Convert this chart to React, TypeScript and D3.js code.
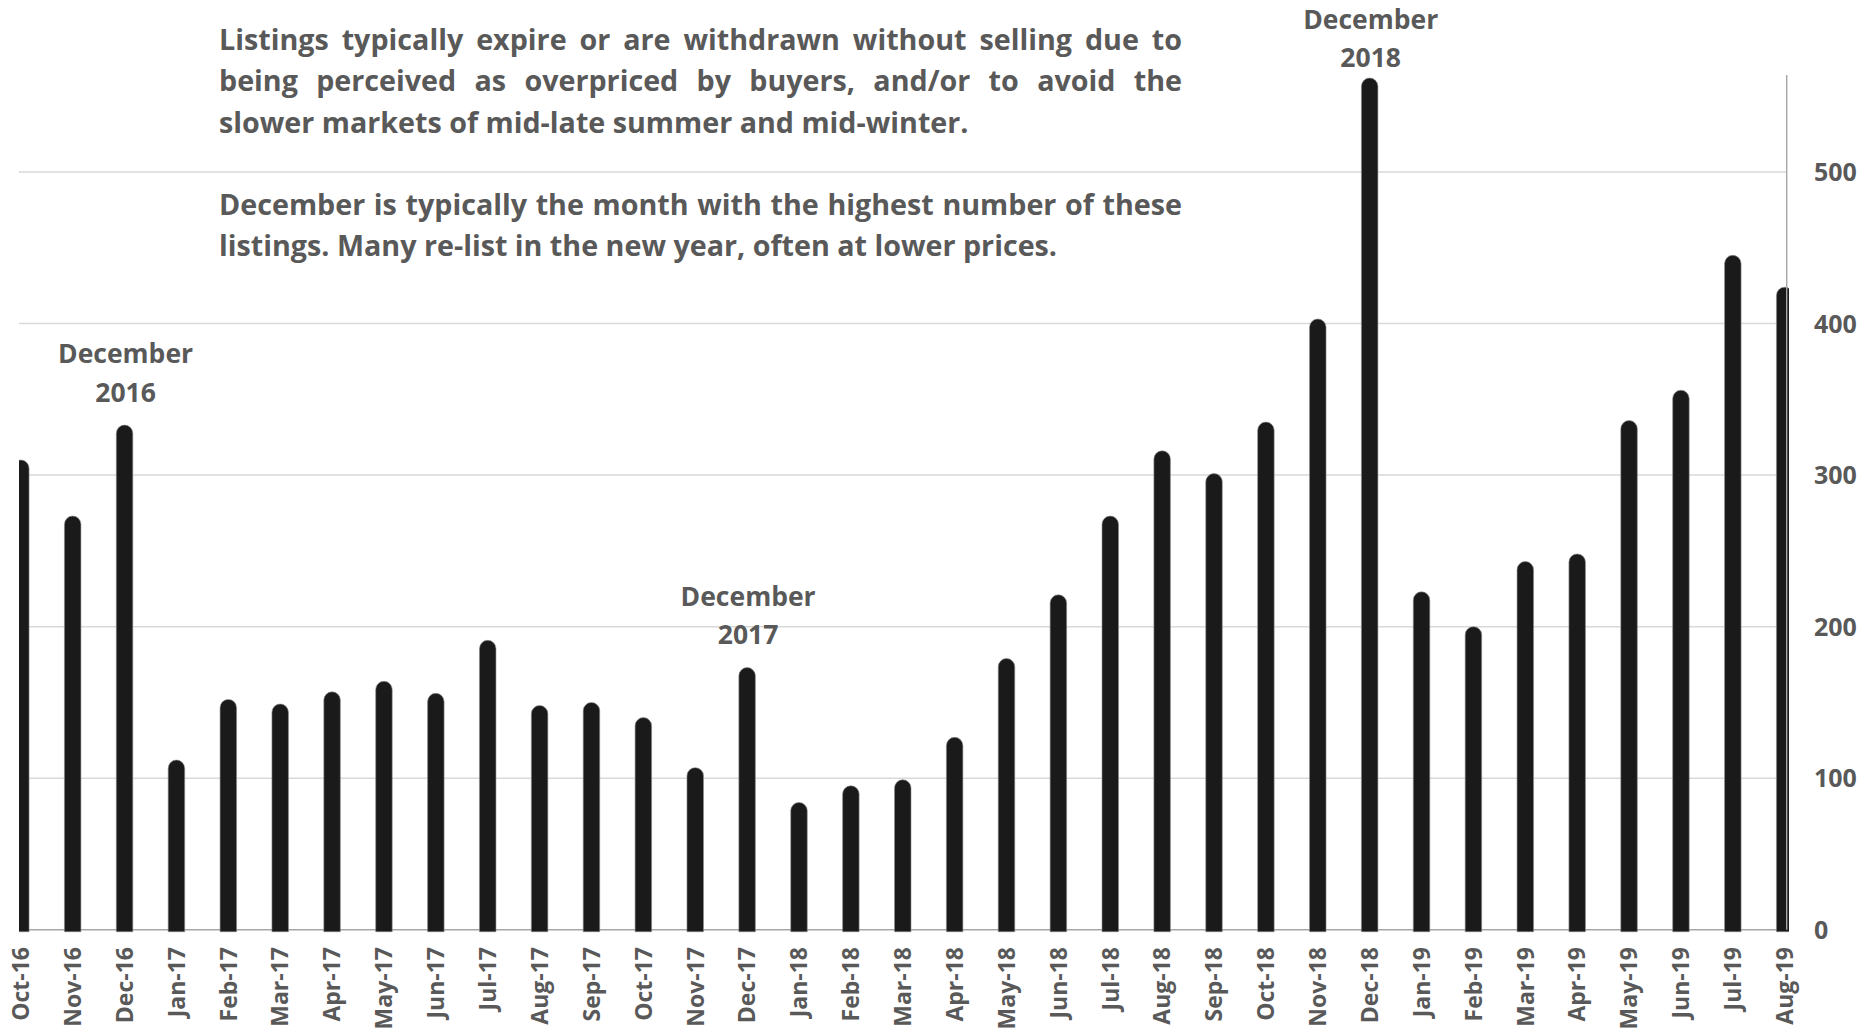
import React from "react";
import * as d3 from "d3";

// Monthly expired / withdrawn listings, Oct 2016 – Aug 2019
const months = [
  "Oct-16", "Nov-16", "Dec-16", "Jan-17", "Feb-17", "Mar-17", "Apr-17", "May-17",
  "Jun-17", "Jul-17", "Aug-17", "Sep-17", "Oct-17", "Nov-17", "Dec-17", "Jan-18",
  "Feb-18", "Mar-18", "Apr-18", "May-18", "Jun-18", "Jul-18", "Aug-18", "Sep-18",
  "Oct-18", "Nov-18", "Dec-18", "Jan-19", "Feb-19", "Mar-19", "Apr-19", "May-19",
  "Jun-19", "Jul-19", "Aug-19",
];

const counts = [
  310, 273, 333, 112, 152, 149, 157, 164,
  156, 191, 148, 150, 140, 107, 173, 84,
  95, 99, 127, 179, 221, 273, 316, 301,
  335, 403, 562, 223, 200, 243, 248, 336,
  356, 445, 424,
];

const yTicks = [0, 100, 200, 300, 400, 500];

const decemberCallouts = [
  { month: "Dec-16", lines: ["December", "2016"] },
  { month: "Dec-17", lines: ["December", "2017"] },
  { month: "Dec-18", lines: ["December", "2018"] },
];

const noteLines = [
  { text: "Listings typically expire or are withdrawn without selling due to", justify: true },
  { text: "being perceived as overpriced by buyers, and/or to avoid the", justify: true },
  { text: "slower markets of mid-late summer and mid-winter.", justify: false },
  { text: "December is typically the month with the highest number of these", justify: true },
  { text: "listings. Many re-list in the new year, often at lower prices.", justify: false },
];

const W = 1864;
const H = 1031;
const FONT = "'Open Sans', 'DejaVu Sans', sans-serif";
const GRAY = "#595959";
const BAR = "#1a1a1a";

const plotLeft = 19;
const plotRight = 1789;
const axisX = 1786.7;

const x = d3.scalePoint<string>().domain(months).range([20.8, 1784.7]);
const y = d3.scaleLinear().domain([0, 564]).range([929.8, 75]);

const barW = 16.5;

function barPath(cx: number, top: number, bottom: number, w: number): string {
  const r = w / 2;
  const p = d3.path();
  p.moveTo(cx - r, bottom);
  p.lineTo(cx - r, top + r);
  p.arc(cx, top + r, r, Math.PI, 0);
  p.lineTo(cx + r, bottom);
  p.closePath();
  return p.toString();
}

let measureCtx: CanvasRenderingContext2D | null = null;
function measure(text: string, font: string): number {
  if (!measureCtx) {
    const c = document.createElement("canvas");
    measureCtx = c.getContext("2d");
  }
  if (!measureCtx) return text.length * 14;
  measureCtx.font = font;
  return measureCtx.measureText(text).width;
}

// Lay out a paragraph line word by word, spreading the gaps when justified
function layoutWords(text: string, x0: number, x1: number, justify: boolean, font: string) {
  const words = text.split(" ");
  const widths = words.map((w) => measure(w, font));
  const spaceW = measure(" ", font);
  const total = widths.reduce((a, b) => a + b, 0);
  const gap = justify && words.length > 1 ? (x1 - x0 - total) / (words.length - 1) : spaceW;
  let cx = x0;
  return words.map((w, i) => {
    const pos = cx;
    cx += widths[i] + gap;
    return { word: w, x: pos };
  });
}

export default function App() {
  const y0 = y(0);
  const noteFontSize = 28.7;
  const noteFont = `bold ${noteFontSize}px 'Open Sans'`;
  const noteX0 = 219;
  const noteX1 = 1182;
  const noteBaselines = [49.5, 91.3, 133, 214.5, 256];

  return (
    <svg
      width={W}
      height={H}
      viewBox={`0 0 ${W} ${H}`}
      style={{ position: "absolute", left: 0, top: 0, background: "#ffffff" }}
      fontFamily={FONT}
    >
      <defs>
        <clipPath id="plot-clip">
          <rect x={plotLeft} y={0} width={plotRight - plotLeft} height={y0 + 3} />
        </clipPath>
      </defs>
      <rect x={0} y={0} width={W} height={H} fill="#ffffff" />

      {/* horizontal gridlines */}
      {yTicks
        .filter((t) => t > 0)
        .map((t) => (
          <line
            key={`g${t}`}
            x1={plotLeft}
            x2={axisX}
            y1={y(t)}
            y2={y(t)}
            stroke="#d9d9d9"
            strokeWidth={1.5}
          />
        ))}

      {/* category axis baseline */}
      <line x1={plotLeft} x2={axisX} y1={y0} y2={y0} stroke="#a6a6a6" strokeWidth={1.5} />

      {/* bars with rounded tops */}
      <g clipPath="url(#plot-clip)">
        {months.map((m, i) => (
          <path
            key={m}
            d={barPath(x(m) as number, y(counts[i]), y0 + 2, barW)}
            fill={BAR}
            stroke="#8c8c8c"
            strokeWidth={0.6}
          />
        ))}
      </g>

      {/* value axis on the right */}
      <line x1={axisX} x2={axisX} y1={y(564)} y2={y0} stroke="#a6a6a6" strokeWidth={1.4} />
      {yTicks.map((t) => (
        <text
          key={`t${t}`}
          x={1814}
          y={y(t)}
          dy="0.36em"
          fontSize={25}
          fontWeight="bold"
          fill={GRAY}
        >
          {t}
        </text>
      ))}

      {/* month labels */}
      {months.map((m) => (
        <text
          key={`l${m}`}
          transform={`translate(${x(m)},947) rotate(-90)`}
          textAnchor="end"
          dy="0.36em"
          fontSize={23}
          fontWeight="bold"
          fill={GRAY}
        >
          {m}
        </text>
      ))}

      {/* December callouts above each peak, kept inside the top edge */}
      {decemberCallouts.map((c) => {
        const cx = (x(c.month) as number) + 1;
        const i = months.indexOf(c.month);
        const top = y(counts[i]);
        const first = Math.max(top - 62, 28.5);
        return (
          <text
            key={c.month}
            x={cx}
            textAnchor="middle"
            fontSize={26.5}
            fontWeight="bold"
            fill={GRAY}
          >
            <tspan x={cx} y={first}>
              {c.lines[0]}
            </tspan>
            <tspan x={cx} y={first + 38.5}>
              {c.lines[1]}
            </tspan>
          </text>
        );
      })}

      {/* explanatory note */}
      {noteLines.map((line, li) => (
        <text
          key={`n${li}`}
          y={noteBaselines[li]}
          fontSize={noteFontSize}
          fontWeight="bold"
          fill={GRAY}
        >
          {layoutWords(line.text, noteX0, noteX1, line.justify, noteFont).map((w, wi) => (
            <tspan key={wi} x={w.x}>
              {w.word}
            </tspan>
          ))}
        </text>
      ))}
    </svg>
  );
}
